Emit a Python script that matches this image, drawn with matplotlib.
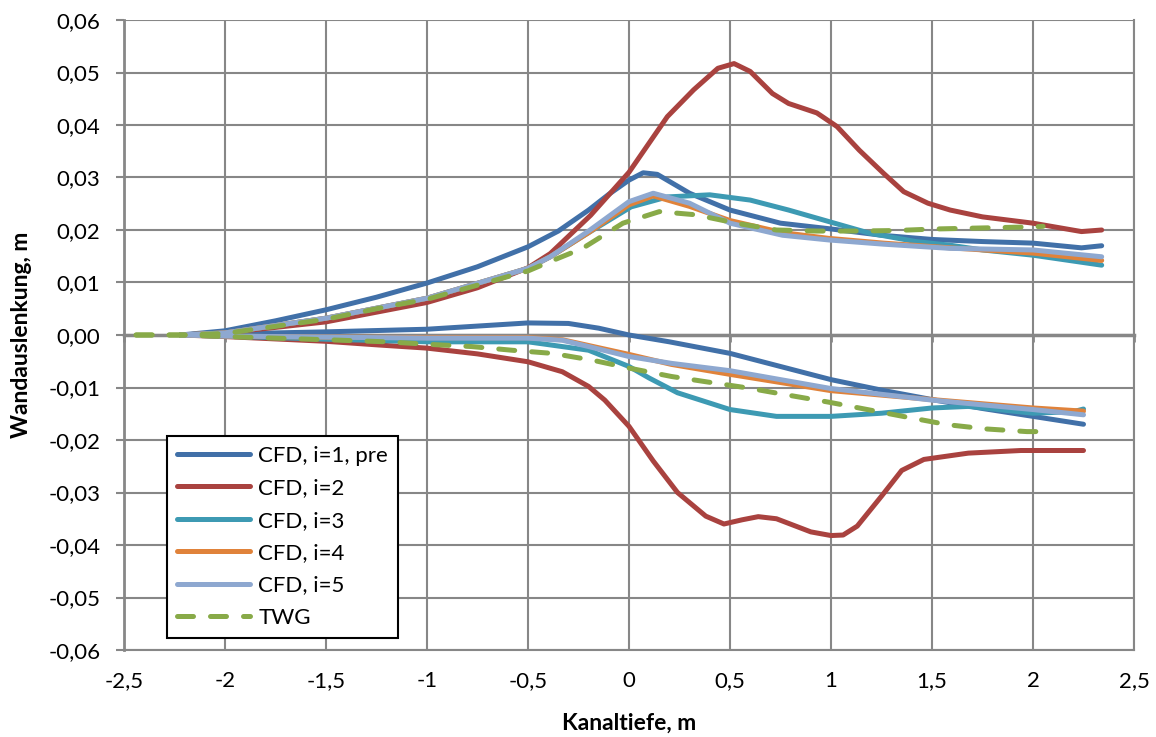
import matplotlib
matplotlib.use("Agg")
import matplotlib.pyplot as plt
from matplotlib.ticker import MultipleLocator, FuncFormatter

plt.rcParams['font.family'] = ['Lato', 'DejaVu Sans']

# CFD, i=1, pre
x1_up = [-2.22, -2.0, -1.75, -1.5, -1.25, -1.0, -0.75, -0.5, -0.35, -0.2, -0.1, 0.0, 0.07, 0.14, 0.3, 0.5, 0.75, 1.0, 1.25, 1.5, 1.75, 2.0, 2.24, 2.34]
y1_up = [0, 0.0008, 0.0027, 0.0048, 0.0072, 0.0099, 0.013, 0.0168, 0.0198, 0.0238, 0.0268, 0.0295, 0.0309, 0.0306, 0.027, 0.0238, 0.0213, 0.0202, 0.019, 0.0182, 0.0178, 0.0175, 0.0166, 0.017]
x1_lo = [-2.22, -2.0, -1.5, -1.0, -0.75, -0.5, -0.3, -0.15, 0.0, 0.2, 0.5, 0.75, 1.0, 1.25, 1.5, 1.75, 2.0, 2.25]
y1_lo = [0, 0.0002, 0.0006, 0.0011, 0.0017, 0.0023, 0.0022, 0.0013, 0.0, -0.0013, -0.0035, -0.006, -0.0085, -0.0105, -0.0123, -0.014, -0.0155, -0.017]

# CFD, i=2
x2_up = [-2.22, -2.0, -1.5, -1.0, -0.75, -0.5, -0.39, -0.19, 0.0, 0.19, 0.32, 0.44, 0.52, 0.6, 0.71, 0.79, 0.93, 1.03, 1.14, 1.26, 1.36, 1.48, 1.59, 1.75, 2.0, 2.24, 2.34]
y2_up = [0, 0.0004, 0.0025, 0.0062, 0.009, 0.0128, 0.0155, 0.0228, 0.031, 0.0416, 0.0467, 0.0508, 0.0517, 0.0502, 0.046, 0.0441, 0.0423, 0.0397, 0.0352, 0.0308, 0.0273, 0.0251, 0.0238, 0.0225, 0.0213, 0.0197, 0.020]
x2_lo = [-2.22, -2.0, -1.5, -1.24, -1.0, -0.75, -0.5, -0.33, -0.2, -0.12, 0.0, 0.12, 0.24, 0.38, 0.47, 0.56, 0.64, 0.73, 0.9, 1.0, 1.06, 1.13, 1.25, 1.35, 1.46, 1.68, 1.94, 2.25]
y2_lo = [0, -0.0003, -0.0012, -0.0019, -0.0025, -0.0036, -0.0051, -0.007, -0.0098, -0.0124, -0.0174, -0.024, -0.030, -0.0345, -0.036, -0.0352, -0.0346, -0.035, -0.0375, -0.0382, -0.0381, -0.0364, -0.0307, -0.0258, -0.0237, -0.0225, -0.022, -0.022]

# CFD, i=3
x3_up = [-2.22, -2.0, -1.5, -1.0, -0.5, -0.39, -0.2, 0.01, 0.19, 0.4, 0.6, 0.79, 0.99, 1.19, 1.42, 1.59, 1.75, 2.0, 2.34]
y3_up = [0, 0.0004, 0.0032, 0.007, 0.0127, 0.0149, 0.0195, 0.0244, 0.0263, 0.0267, 0.0257, 0.0238, 0.0216, 0.0194, 0.0178, 0.0171, 0.0162, 0.0152, 0.0133]
x3_lo = [-2.22, -2.0, -1.5, -1.0, -0.5, -0.2, 0.0, 0.1, 0.24, 0.5, 0.73, 1.0, 1.25, 1.5, 1.68, 2.0, 2.2, 2.25]
y3_lo = [0, -0.0002, -0.0008, -0.0013, -0.0013, -0.0029, -0.006, -0.0082, -0.011, -0.0142, -0.0155, -0.0155, -0.0149, -0.0139, -0.0136, -0.0149, -0.0146, -0.0141]

# CFD, i=4 / i=5 (same x positions)
x45_up = [-2.22, -2.0, -1.5, -1.0, -0.5, -0.39, -0.2, 0.0, 0.12, 0.3, 0.5, 0.76, 0.99, 1.26, 1.59, 2.0, 2.34]
y4_up = [0, 0.0004, 0.0032, 0.007, 0.0127, 0.0149, 0.0195, 0.0248, 0.0265, 0.0245, 0.0218, 0.0195, 0.0184, 0.0175, 0.0166, 0.0156, 0.0142]
y5_up = [0, 0.0004, 0.0032, 0.007, 0.0127, 0.0149, 0.0198, 0.0254, 0.027, 0.0251, 0.0213, 0.019, 0.0181, 0.0173, 0.0165, 0.0162, 0.0149]
x45_lo = [-2.22, -2.0, -1.5, -1.0, -0.5, -0.33, -0.2, 0.0, 0.21, 0.5, 1.0, 1.5, 2.0, 2.25]
y4_lo = [0, -0.0002, -0.0004, -0.0005, -0.0005, -0.0009, -0.002, -0.0037, -0.0056, -0.0075, -0.0106, -0.0123, -0.0139, -0.0145]
y5_lo = [0, -0.0002, -0.0004, -0.0006, -0.0006, -0.001, -0.0022, -0.0041, -0.0054, -0.0068, -0.0102, -0.0124, -0.0142, -0.0152]

# TWG
xt_up = [-2.44, -2.2, -2.0, -1.5, -1.2, -1.0, -0.5, -0.39, -0.23, -0.03, 0.15, 0.33, 0.53, 0.73, 0.93, 1.13, 1.32, 1.52, 2.0, 2.05]
yt_up = [0, 0, 0.0003, 0.003, 0.0054, 0.0068, 0.0122, 0.014, 0.0165, 0.0213, 0.0235, 0.0229, 0.0213, 0.020, 0.0198, 0.0198, 0.0199, 0.0202, 0.0206, 0.0207]
xt_lo = [-2.44, -2.2, -2.0, -1.5, -1.2, -0.98, -0.78, -0.58, -0.38, -0.18, 0.0, 0.21, 0.38, 0.59, 0.78, 0.99, 1.18, 1.37, 1.58, 1.77, 1.97, 2.03]
yt_lo = [0, 0, -0.0003, -0.0009, -0.0013, -0.0018, -0.0022, -0.0029, -0.0035, -0.0048, -0.0063, -0.0079, -0.0089, -0.0101, -0.0114, -0.0128, -0.0142, -0.0156, -0.0171, -0.0179, -0.0184, -0.0184]

labels = ['CFD, i=1, pre', 'CFD, i=2', 'CFD, i=3', 'CFD, i=4', 'CFD, i=5', 'TWG']
colors = ['#4170A8', '#A9423F', '#3D9AB3', '#E0823A', '#8EA8D0', '#88AA48']

series = [
    (x1_up, y1_up, x1_lo, y1_lo),
    (x2_up, y2_up, x2_lo, y2_lo),
    (x3_up, y3_up, x3_lo, y3_lo),
    (x45_up, y4_up, x45_lo, y4_lo),
    (x45_up, y5_up, x45_lo, y5_lo),
    (xt_up, yt_up, xt_lo, yt_lo),
]

grid_c = '#878787'

fig = plt.figure(figsize=(11.56, 7.37), dpi=100)
ax = fig.add_axes([124/1156, 1 - 650/737, 1010/1156, 630/737])

for i, (xu, yu, xl, yl) in enumerate(series):
    kw = dict(color=colors[i], lw=3.6, solid_capstyle='round', solid_joinstyle='round', zorder=3 + i)
    if labels[i] == 'TWG':
        kw.update(ls=(0, (3.2, 3.4)), dash_capstyle='round', dash_joinstyle='round')
    ax.plot(xu, yu, label=labels[i], **kw)
    ax.plot(xl, yl, **kw)

ax.set_xlim(-2.5, 2.5)
ax.set_ylim(-0.06, 0.06)
ax.xaxis.set_major_locator(MultipleLocator(0.5))
ax.yaxis.set_major_locator(MultipleLocator(0.01))


def fmt_x(v, pos):
    if abs(v) < 1e-9:
        return '0'
    return ('%g' % v).replace('.', ',')


def fmt_y(v, pos):
    if abs(v) < 1e-9:
        v = 0.0
    return ('%.2f' % v).replace('.', ',')


ax.xaxis.set_major_formatter(FuncFormatter(fmt_x))
ax.yaxis.set_major_formatter(FuncFormatter(fmt_y))

ax.grid(True, color=grid_c, lw=1.5, zorder=0)
ax.set_axisbelow(True)

# axis line through y=0 with small downward ticks (Excel style)
ax.spines['top'].set_position(('data', 0))
ax.spines['top'].set_color(grid_c)
ax.spines['top'].set_linewidth(2.5)
ax.spines['top'].set_zorder(2)
ax.spines['left'].set_color(grid_c)
ax.spines['left'].set_linewidth(2.0)
for s in ['bottom', 'right']:
    ax.spines[s].set_color(grid_c)
    ax.spines[s].set_linewidth(1.5)

ax.tick_params(axis='x', which='both', top=True, bottom=False, labeltop=False, labelbottom=True,
               direction='in', length=5, width=2, color=grid_c, pad=15, labelsize=16)
ax.tick_params(axis='y', direction='out', length=6, width=1.5, color=grid_c, pad=11, labelsize=16)

ax.set_xlabel('Kanaltiefe, m', fontsize=16.5, fontweight='bold', labelpad=16)
ax.set_ylabel('Wandauslenkung, m', fontsize=16.5, fontweight='bold', labelpad=12)

leg = ax.legend(loc='lower left', bbox_to_anchor=(0.0426, 0.019), fontsize=16, frameon=True,
                fancybox=False, edgecolor='black', framealpha=1, handlelength=3.3,
                handletextpad=0.35, labelspacing=0.56, borderaxespad=0, borderpad=0.45)
leg.get_frame().set_linewidth(1.5)
leg.set_zorder(20)

fig.savefig('out.png', dpi=100)
